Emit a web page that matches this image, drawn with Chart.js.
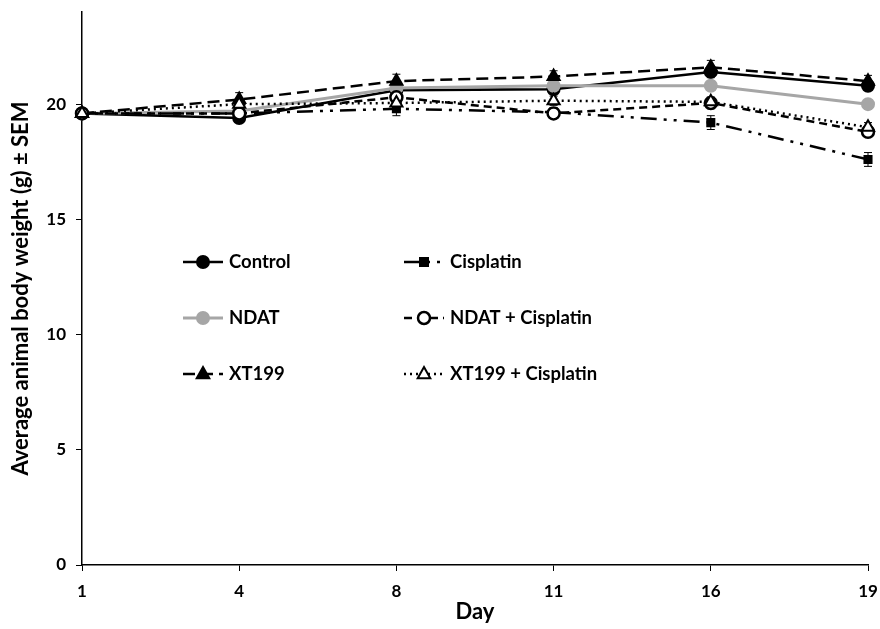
<!DOCTYPE html>
<html>
<head>
<meta charset="utf-8">
<script src="https://cdn.jsdelivr.net/npm/chart.js@4/dist/chart.umd.min.js"></script>
<style>
  html, body { margin: 0; padding: 0; background: #fff; }
  #wrap { width: 880px; height: 629px; }
</style>
</head>
<body>
<div id="wrap"><canvas id="chart" width="880" height="629"></canvas></div>
<script>
// x axis days
const days = ['1', '4', '8', '11', '16', '19'];

// mean body weight (g) per group
const control      = [19.6, 19.4, 20.6, 20.65, 21.4, 20.8];
const ndat         = [19.6, 19.7, 20.7, 20.8, 20.8, 20.0];
const xt199        = [19.6, 20.2, 21.0, 21.2, 21.6, 21.0];
const cisplatin    = [19.6, 19.6, 19.8, 19.65, 19.2, 17.6];
const ndatCis      = [19.6, 19.6, 20.3, 19.6, 20.05, 18.8];
const xt199Cis     = [19.6, 20.0, 20.05, 20.15, 20.1, 19.0];

// SEM per group
const controlSem   = [0.2, 0.2, 0.3, 0.2, 0.25, 0.2];
const ndatSem      = [0.2, 0.2, 0.2, 0.2, 0.2, 0.2];
const xt199Sem     = [0.2, 0.3, 0.3, 0.25, 0.3, 0.25];
const cisplatinSem = [0.2, 0.2, 0.3, 0.2, 0.3, 0.3];
const ndatCisSem   = [0.2, 0.2, 0.2, 0.2, 0.25, 0.2];
const xt199CisSem  = [0.2, 0.2, 0.2, 0.2, 0.2, 0.2];

const yTicks = [0, 5, 10, 15, 20];

const FONT = 'Lato, "Open Sans", sans-serif';

function ds(label, data, sem, opts) {
  return Object.assign({
    label: label,
    data: data,
    sem: sem,
    borderColor: '#000',
    backgroundColor: '#000',
    pointBorderColor: '#000',
    pointBackgroundColor: '#000',
    borderWidth: 2.5,
    pointRadius: 6,
    pointBorderWidth: 2,
    tension: 0,
    fill: false
  }, opts);
}

const datasets = [
  ds('XT199 + Cisplatin', xt199Cis, xt199CisSem, { borderDash: [2, 4], pointStyle: 'triangle', pointBackgroundColor: '#fff', pointRadius: 7 }),
  ds('NDAT + Cisplatin', ndatCis, ndatCisSem, { borderDash: [8, 5], pointStyle: 'circle', pointBackgroundColor: '#fff', pointBorderWidth: 2.5 }),
  ds('Cisplatin', cisplatin, cisplatinSem, { borderDash: [16, 7, 3, 7, 3, 7], pointStyle: 'rect', pointRadius: 5 }),
  ds('XT199', xt199, xt199Sem, { borderDash: [12, 6], pointStyle: 'triangle', pointRadius: 7 }),
  ds('NDAT', ndat, ndatSem, { borderColor: '#a6a6a6', backgroundColor: '#a6a6a6', pointBorderColor: '#a6a6a6', pointBackgroundColor: '#a6a6a6', borderWidth: 3 }),
  ds('Control', control, controlSem, {})
];

// legend layout: sample line start x, row y
const legendSlots = {
  'Control':           [183, 262],
  'NDAT':              [183, 318],
  'XT199':             [183, 374],
  'Cisplatin':         [404, 262],
  'NDAT + Cisplatin':  [404, 318],
  'XT199 + Cisplatin': [404, 374]
};

const errorBars = {
  id: 'errorBars',
  beforeDatasetsDraw(chart) {
    const ctx = chart.ctx;
    const y = chart.scales.y;
    ctx.save();
    ctx.strokeStyle = '#000';
    ctx.lineWidth = 1;
    chart.data.datasets.forEach((d, i) => {
      const meta = chart.getDatasetMeta(i);
      meta.data.forEach((pt, j) => {
        const top = y.getPixelForValue(d.data[j] + d.sem[j]);
        const bot = y.getPixelForValue(d.data[j] - d.sem[j]);
        ctx.beginPath();
        ctx.moveTo(pt.x, top); ctx.lineTo(pt.x, bot);
        ctx.moveTo(pt.x - 4, top); ctx.lineTo(pt.x + 4, top);
        ctx.moveTo(pt.x - 4, bot); ctx.lineTo(pt.x + 4, bot);
        ctx.stroke();
      });
    });
    ctx.restore();
  }
};

const insideLegend = {
  id: 'insideLegend',
  afterDraw(chart) {
    const ctx = chart.ctx;
    ctx.save();
    chart.data.datasets.forEach(d => {
      const [x0, y0] = legendSlots[d.label];
      ctx.beginPath();
      ctx.strokeStyle = d.borderColor;
      ctx.lineWidth = d.borderWidth;
      ctx.setLineDash(d.borderDash || []);
      ctx.moveTo(x0, y0);
      ctx.lineTo(x0 + 40, y0);
      ctx.stroke();
      ctx.setLineDash([]);
      ctx.fillStyle = d.pointBackgroundColor;
      ctx.strokeStyle = d.pointBorderColor;
      ctx.lineWidth = d.pointBorderWidth;
      ctx.beginPath();
      const r = d.pointRadius;
      const cx = x0 + 20;
      if (d.pointStyle === 'triangle') {
        ctx.moveTo(cx, y0 - r); ctx.lineTo(cx + r * 0.9, y0 + r * 0.6); ctx.lineTo(cx - r * 0.9, y0 + r * 0.6); ctx.closePath();
      } else if (d.pointStyle === 'rect') {
        ctx.rect(cx - r * 0.8, y0 - r * 0.8, r * 1.6, r * 1.6);
      } else {
        ctx.arc(cx, y0, r, 0, Math.PI * 2);
      }
      ctx.fill();
      ctx.stroke();
      ctx.fillStyle = '#000';
      ctx.font = 'bold 18.5px ' + FONT;
      ctx.textBaseline = 'middle';
      ctx.fillText(d.label, x0 + 46, y0);
    });
    ctx.restore();
  }
};

new Chart(document.getElementById('chart'), {
  type: 'line',
  data: { labels: days, datasets: datasets },
  options: {
    responsive: false,
    animation: false,
    layout: { padding: { top: 12, right: 12, left: 0, bottom: 0 } },
    plugins: {
      legend: { display: false },
      tooltip: { enabled: false }
    },
    scales: {
      x: {
        offset: false,
        grid: { display: true, drawOnChartArea: false, drawTicks: true, tickLength: 6, color: '#000' },
        border: { color: '#000', width: 1.5 },
        ticks: { color: '#000', font: { family: FONT, size: 17, weight: 'bold' }, padding: 10, maxRotation: 0 },
        title: { display: true, text: 'Day', color: '#000', font: { family: FONT, size: 22, weight: 'bold' }, padding: { top: 8 } },
        afterFit(scale) {
          scale.height = 64;
          scale.paddingLeft = 0;
          scale.paddingRight = 0;
        }
      },
      y: {
        min: 0,
        max: 24,
        grid: { display: true, drawOnChartArea: false, drawTicks: true, tickLength: 6, color: '#000' },
        border: { color: '#000', width: 1.5 },
        ticks: { color: '#000', font: { family: FONT, size: 17, weight: 'bold' }, padding: 10, stepSize: 5 },
        afterBuildTicks(scale) { scale.ticks = yTicks.map(v => ({ value: v })); },
        title: { display: true, text: 'Average animal body weight (g) ± SEM', color: '#000', font: { family: FONT, size: 22, weight: 'bold' }, padding: { top: 8, bottom: 8 } },
        afterFit(scale) {
          scale.width = 82;
          scale.paddingTop = 0;
          scale.paddingBottom = 0;
        }
      }
    }
  },
  plugins: [errorBars, insideLegend]
});
</script>
</body>
</html>
